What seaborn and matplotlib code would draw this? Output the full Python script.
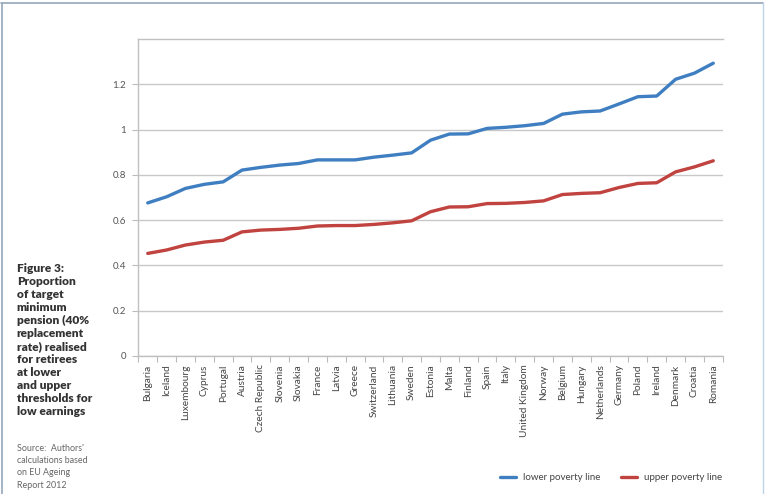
import numpy as np
import pandas as pd
import matplotlib.pyplot as plt
import seaborn as sns
from matplotlib.lines import Line2D

# ---------- Data ----------
countries = [
    "Bulgaria", "Iceland", "Luxembourg", "Cyprus", "Portugal", "Austria",
    "Czech Republic", "Slovenia", "Slovakia", "France", "Latvia", "Greece",
    "Switzerland", "Lithuania", "Sweden", "Estonia", "Malta", "Finland",
    "Spain", "Italy", "United Kingdom", "Norway", "Belgium", "Hungary",
    "Netherlands", "Germany", "Poland", "Ireland", "Denmark", "Croatia", "Romania",
]
lower_line = [
    0.676, 0.703, 0.740, 0.758, 0.769, 0.821, 0.833, 0.843, 0.850, 0.866,
    0.866, 0.866, 0.878, 0.887, 0.897, 0.953, 0.980, 0.981, 1.005, 1.010,
    1.017, 1.027, 1.068, 1.078, 1.082, 1.113, 1.145, 1.148, 1.222, 1.249, 1.293,
]
upper_line = [
    0.453, 0.468, 0.490, 0.503, 0.511, 0.548, 0.556, 0.559, 0.564, 0.574,
    0.576, 0.576, 0.581, 0.588, 0.597, 0.637, 0.658, 0.659, 0.673, 0.674,
    0.678, 0.685, 0.713, 0.718, 0.721, 0.744, 0.762, 0.765, 0.813, 0.835, 0.862,
]
series_names = ["lower poverty line", "upper poverty line"]
y_ticks = [0, 0.2, 0.4, 0.6, 0.8, 1, 1.2]
y_tick_labels = ["0", "0.2", "0.4", "0.6", "0.8", "1", "1.2"]

blue = "#3F7FC1"
red = "#C0433F"

df = pd.DataFrame({
    "country": countries * 2,
    "value": lower_line + upper_line,
    "series": [series_names[0]] * len(countries) + [series_names[1]] * len(countries),
})
df["pos"] = list(range(len(countries))) * 2

sns.set_style("white")
plt.rcParams["font.family"] = ["Lato", "DejaVu Sans"]

fig = plt.figure(figsize=(7.65, 4.94), dpi=100)
ax = fig.add_axes([0.1808, 0.2794, 0.7639, 0.6417])

sns.lineplot(data=df, x="pos", y="value", hue="series",
             palette={series_names[0]: blue, series_names[1]: red},
             linewidth=2.4, legend=False, ax=ax)

ax.set_xlim(-0.5, len(countries) - 0.5)
ax.set_ylim(0, 1.4)
ax.set_yticks(y_ticks)
ax.set_yticklabels(y_tick_labels)
ax.set_xticks(range(len(countries)))
ax.set_xticklabels(countries, rotation=90, fontsize=7.3, color="#444444")
ax.set_xticks(np.arange(-0.5, len(countries), 1), minor=True)
ax.tick_params(axis="x", which="major", length=0, pad=6)
ax.tick_params(axis="x", which="minor", length=4, color="#BBBBBB", width=0.8, bottom=True)
ax.tick_params(axis="y", length=4, color="#BBBBBB", width=0.8, left=True,
               labelsize=7, labelcolor="#555555", pad=5)
ax.set_xlabel("")
ax.set_ylabel("")

# gridlines (incl. one at 1.4 drawn by the top spine)
ax.yaxis.grid(True, color="#C8C8C8", linewidth=1.0)
ax.set_axisbelow(True)
for side in ["left", "bottom", "top"]:
    ax.spines[side].set_visible(True)
    ax.spines[side].set_color("#C0C0C0")
    ax.spines[side].set_linewidth(1.0)
ax.spines["right"].set_visible(False)

# legend at bottom right
handles = [Line2D([0], [0], color=blue, lw=2.4), Line2D([0], [0], color=red, lw=2.4)]
fig.legend(handles, series_names, loc="lower right", bbox_to_anchor=(0.955, 0.006),
           ncol=2, frameon=False, fontsize=7, handlelength=1.6, columnspacing=2.2,
           handletextpad=0.7, labelcolor="#444444")

# caption on the left
fig.text(0.022, 0.468,
         "Figure 3:\nProportion\nof target\nminimum\npension (40%\nreplacement\n"
         "rate) realised\nfor retirees\nat lower\nand upper\nthresholds for\nlow earnings",
         fontsize=8.6, fontweight="heavy", color="#333333", va="top", ha="left",
         linespacing=1.22)
fig.text(0.022, 0.101,
         "Source:  Authors'\ncalculations based\non EU Ageing\nReport 2012",
         fontsize=6.4, color="#666666", va="top", ha="left", linespacing=1.45)

# thin frame around the page panel
fig.add_artist(Line2D([0.001, 0.998], [0.994, 0.994], color="#93A7BA", lw=1.2))
fig.add_artist(Line2D([0.002, 0.002], [0.0, 0.994], color="#93A7BA", lw=1.2))
fig.add_artist(Line2D([0.997, 0.997], [0.0, 0.994], color="#BCD3E8", lw=1.0))

plt.savefig("out.png", dpi=100)
